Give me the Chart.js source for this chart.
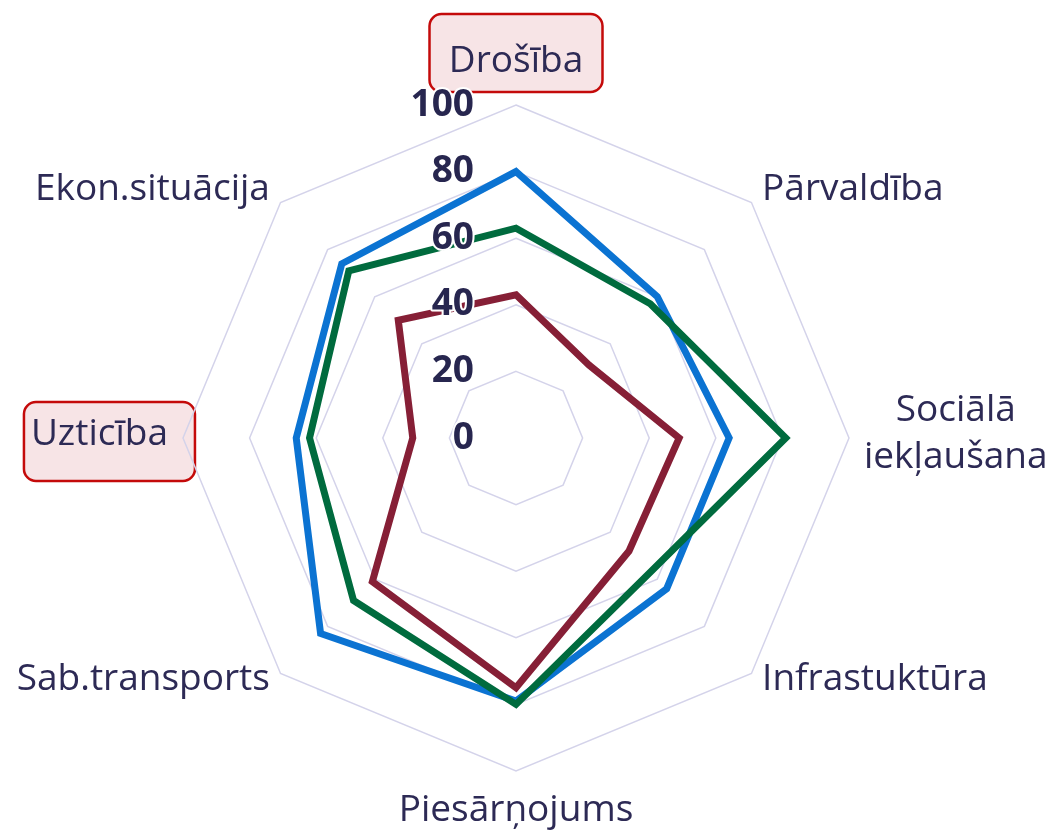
<!DOCTYPE html>
<html>
<head>
<meta charset="utf-8">
<script src="https://cdn.jsdelivr.net/npm/chart.js@4"></script>
<style>
  html, body { margin: 0; padding: 0; background: #fff; }
  canvas { display: block; }
</style>
</head>
<body>
<canvas id="radar" width="1053" height="832"></canvas>
<script>
// axes, clockwise from the top
const categories = ['Drošība', 'Pārvaldība', ['Sociālā', 'iekļaušana'], 'Infrastuktūra',
                    'Piesārņojums', 'Sab.transports', 'Uzticība', 'Ekon.situācija'];
const blueValues  = [80, 60, 64, 64, 79, 83, 66, 74];
const greenValues = [63, 57, 81, 57, 80, 69, 62, 71];
const redValues   = [43, 31, 49, 48, 75, 61, 31, 50];
const tickValues  = [0, 20, 40, 60, 80, 100];

const FONT = '"Open Sans", "Noto Sans", sans-serif';
const textColor = '#2d2a55';
const tickColor = '#27264f';
const LINE = 47;

// boxed labels: text lift, box offset from text centre, box size
const boxes = {
    0: { lift: 3, dx: 0, dy: -8, w: 173, h: 78 },
    6: { lift: 0, dx: 10, dy: 7.5, w: 171, h: 79 }
};

function layoutLabels(chart) {
    const scale = chart.scales.r;
    const ctx = chart.ctx;
    ctx.font = '37px ' + FONT;
    return categories.map((label, i) => {
        const lines = [].concat(label);
        const pos = scale.getPointPosition(i, scale.drawingArea + 15);
        const w = Math.max(...lines.map(l => ctx.measureText(l).width));
        let cx, cy;
        if (i === 0) { cx = pos.x; cy = pos.y - 22 - 4; }
        else if (i === 4) { cx = pos.x; cy = pos.y + 22 + 2; }
        else if (i === 2 || i === 6) { cy = pos.y - 4; }
        else if (i === 1 || i === 7) { cy = pos.y - 2; }
        else { cy = pos.y - 5; }
        if (cx === undefined) cx = i < 4 ? pos.x + w / 2 : pos.x - w / 2;
        if (boxes[i]) cy -= boxes[i].lift;
        return { lines, cx, cy, w };
    });
}

const labelPlugin = {
    id: 'axisLabels',
    beforeDraw(chart) {
        const ctx = chart.ctx;
        const items = layoutLabels(chart);
        ctx.save();
        items.forEach((it, i) => {
            const b = boxes[i];
            if (!b) return;
            const x = it.cx + b.dx - b.w / 2;
            const y = it.cy + b.dy - b.h / 2;
            ctx.beginPath();
            ctx.roundRect(x, y, b.w, b.h, 12);
            ctx.fillStyle = 'rgba(235, 190, 195, 0.42)';
            ctx.fill();
            ctx.lineWidth = 2.5;
            ctx.strokeStyle = '#c40a0a';
            ctx.stroke();
        });
        ctx.font = '37px ' + FONT;
        ctx.fillStyle = textColor;
        ctx.textAlign = 'center';
        ctx.textBaseline = 'middle';
        items.forEach(it => {
            const top = it.cy - (it.lines.length - 1) * LINE / 2;
            it.lines.forEach((l, k) => ctx.fillText(l, it.cx, top + k * LINE));
        });
        ctx.restore();
    },
    afterDatasetsDraw(chart) {
        const ctx = chart.ctx;
        const scale = chart.scales.r;
        ctx.save();
        ctx.font = 'bold 37px ' + FONT;
        ctx.textAlign = 'right';
        ctx.textBaseline = 'middle';
        ctx.lineJoin = 'round';
        tickValues.forEach(v => {
            const x = scale.xCenter - 42;
            const y = scale.yCenter - scale.getDistanceFromCenterForValue(v);
            ctx.lineWidth = 4;
            ctx.strokeStyle = '#ffffff';
            ctx.strokeText(String(v), x, y);
            ctx.fillStyle = tickColor;
            ctx.fillText(String(v), x, y);
        });
        ctx.restore();
    }
};

const lineStyle = { borderWidth: 7, pointRadius: 0, pointHoverRadius: 0, fill: false };

new Chart(document.getElementById('radar'), {
    type: 'radar',
    data: {
        labels: categories,
        datasets: [
            Object.assign({ data: redValues, borderColor: '#861f36', order: 1 }, lineStyle),
            Object.assign({ data: greenValues, borderColor: '#006b3e', order: 2 }, lineStyle),
            Object.assign({ data: blueValues, borderColor: '#0b73d2', order: 3 }, lineStyle)
        ]
    },
    options: {
        responsive: false,
        animation: false,
        layout: { padding: { left: 183, right: 204, top: 105, bottom: 61 } },
        plugins: {
            legend: { display: false },
            tooltip: { enabled: false }
        },
        scales: {
            r: {
                min: 0,
                max: 100,
                ticks: { stepSize: 20, display: false },
                grid: { color: '#d4d3ea', lineWidth: 1.5 },
                angleLines: { display: false },
                pointLabels: { display: false }
            }
        }
    },
    plugins: [labelPlugin]
});
</script>
</body>
</html>
